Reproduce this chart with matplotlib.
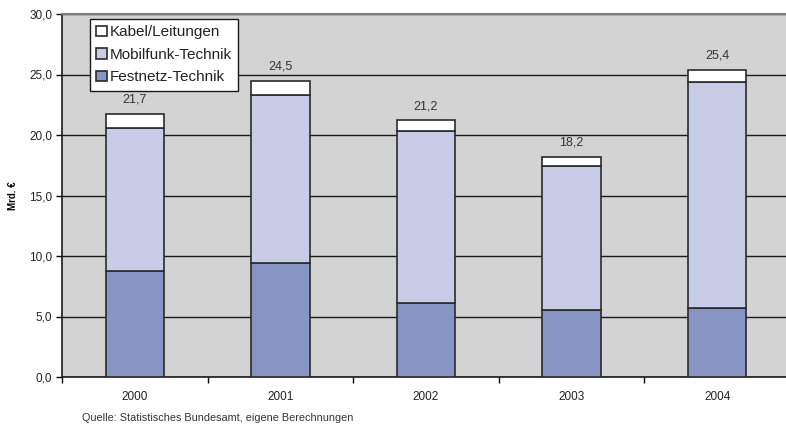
import numpy as np
import matplotlib
matplotlib.use("Agg")
from matplotlib import pyplot as plt

## Daten ##
jahre = ["2000", "2001", "2002", "2003", "2004"]
festnetz = [8.8, 9.4, 6.1, 5.5, 5.7]
mobilfunk = [11.8, 13.9, 14.2, 11.9, 18.7]
kabel = [1.1, 1.2, 0.9, 0.8, 1.0]
summen = ["21,7", "24,5", "21,2", "18,2", "25,4"]

plt.rcParams['font.family'] = ['Liberation Sans', 'DejaVu Sans']

fig = plt.figure(figsize=(7.86, 4.25), dpi=100)
ax = fig.add_axes([62/786, 1 - 377/425, 728/786, 363/425])
ax.set_facecolor('#d3d3d3')

x = np.arange(len(jahre))
fest = np.array(festnetz)
mob = np.array(mobilfunk)
kab = np.array(kabel)
breite = 0.4
kante = dict(edgecolor='#2a2a2a', linewidth=1.2, zorder=3)

b1 = ax.bar(x, fest, breite, color='#8894c4', label='Festnetz-Technik', **kante)
b2 = ax.bar(x, mob, breite, bottom=fest, color='#c8cce6', label='Mobilfunk-Technik', **kante)
b3 = ax.bar(x, kab, breite, bottom=fest + mob, color='white', label='Kabel/Leitungen', **kante)

for xi, tot, txt in zip(x, fest + mob + kab, summen):
    ax.text(xi, tot + 0.7, txt, ha='center', va='bottom', fontsize=9, color='#333333')

ax.set_ylim(0, 30)
ax.set_xlim(-0.5, 4.5)
ax.set_yticks(np.arange(0, 31, 5))
ax.set_yticklabels([('%.1f' % v).replace('.', ',') for v in np.arange(0, 31, 5)])
ax.yaxis.grid(True, color='#1a1a1a', linewidth=1.0, zorder=1)
ax.set_axisbelow(True)

# Jahr-Beschriftungen mittig, Ticks an den Grenzen
ax.set_xticks(x)
ax.set_xticklabels(jahre)
ax.tick_params(axis='x', length=0, pad=10, labelsize=8.5, labelcolor='#222222')
ax.set_xticks(np.arange(-0.5, 5, 1), minor=True)
ax.tick_params(axis='x', which='minor', length=4, width=1, direction='out')
ax.tick_params(axis='y', length=4, width=1, direction='out', labelsize=8.5, pad=3,
               labelcolor='#222222')

for s in ['left', 'bottom']:
    ax.spines[s].set_color('#1a1a1a')
    ax.spines[s].set_linewidth(1.2)
ax.spines['top'].set_color('#7f7f7f')
ax.spines['top'].set_linewidth(1.5)
ax.spines['right'].set_visible(False)

ax.set_ylabel('Mrd. €', fontsize=7, fontweight='bold', labelpad=8)

leg = ax.legend(handles=[b3, b2, b1], loc='upper left', bbox_to_anchor=(28/728, 1 - 5/363),
                fontsize=11, frameon=True, fancybox=False, edgecolor='#1a1a1a',
                framealpha=1, handlelength=0.7, handleheight=0.7, handletextpad=0.15,
                labelspacing=0.55, borderpad=0.42, borderaxespad=0)
leg.get_frame().set_linewidth(1.0)
leg.set_zorder(5)
for t in leg.get_texts():
    t.set_color('#222222')

fig.text(82/786, 1 - 418/425, 'Quelle: Statistisches Bundesamt, eigene Berechnungen',
         fontsize=7.8, color='#333333', va='center')

plt.savefig('out.png', dpi=100)
